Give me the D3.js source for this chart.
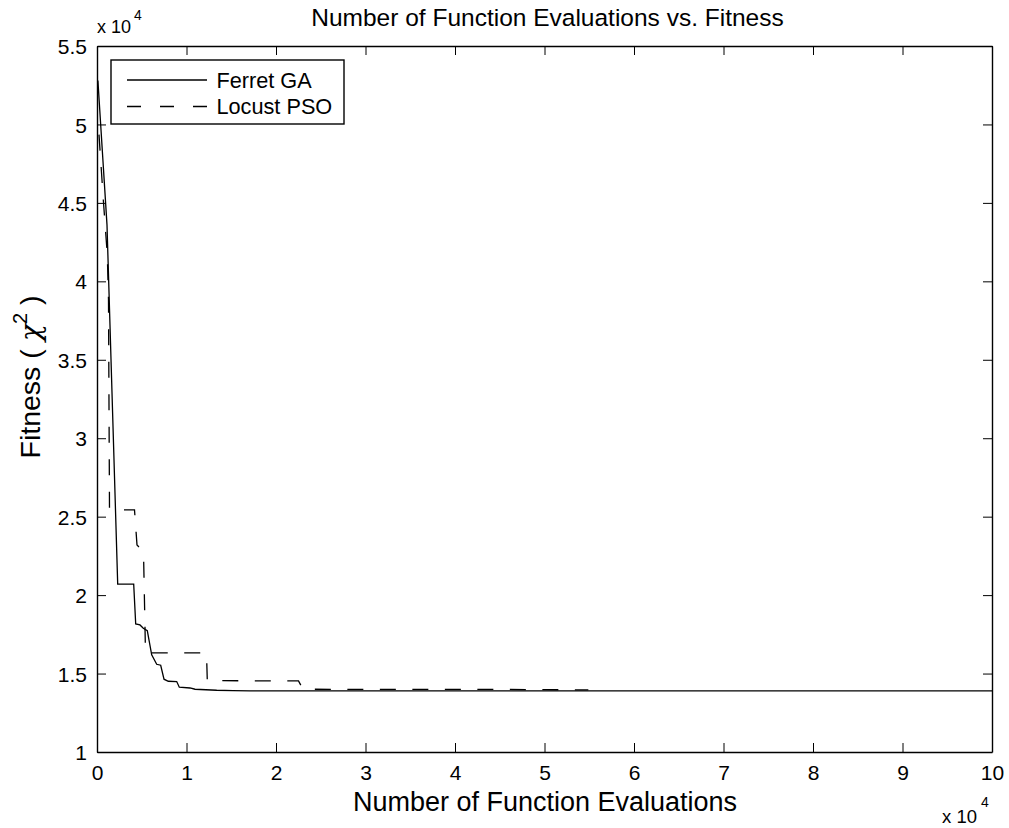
<!DOCTYPE html>
<html>
<head>
<meta charset="utf-8">
<script src="https://cdn.jsdelivr.net/npm/d3@7"></script>
<style>
  html, body { margin: 0; padding: 0; background: #fff; }
  svg { display: block; font-family: "Liberation Sans", Arial, Helvetica, sans-serif; }
</style>
</head>
<body>
<svg id="chart" width="1009" height="828"></svg>
<script>
// ---- data ----
const xTicks = [0, 10000, 20000, 30000, 40000, 50000, 60000, 70000, 80000, 90000, 100000];
const yTicks = [10000, 15000, 20000, 25000, 30000, 35000, 40000, 45000, 50000, 55000];

const gaEvals   = [100, 1117, 2313, 4100, 4324, 4800, 5173, 5620, 6110, 6670, 7117, 7486, 7966, 8905, 9196, 10391, 10950, 13374, 15196, 17095, 100000];
const gaFitness = [52800, 43600, 20700, 20700, 18160, 18100, 17890, 17740, 16190, 15590, 15530, 14640, 14510, 14490, 14130, 14080, 14000, 13935, 13910, 13890, 13890];

const psoEvals   = [223, 704, 1151, 1285, 1397, 4190, 4469, 5196, 5419, 12235, 12324, 22514, 23017, 45000, 54900];
const psoFitness = [49350, 45204, 41696, 38827, 25434, 25434, 23202, 22755, 16314, 16314, 14547, 14528, 13999, 13990, 13955];

const seriesNames = ["Ferret GA", "Locust PSO"];
const titleText = "Number of Function Evaluations vs. Fitness";
const xLabelText = "Number of Function Evaluations";

// ---- layout ----
const L = 97, R = 992, T = 46, B = 752;
const svg = d3.select("#chart");

const x = d3.scaleLinear().domain([0, 100000]).range([L, R]);
const y = d3.scaleLinear().domain([10000, 55000]).range([B, T]);

const fmt = d => String(d / 10000);
const tickLen = 9;
const tickFont = "21px";

// bottom axis
const gx = svg.append("g").attr("transform", `translate(0,${B})`)
  .call(d3.axisBottom(x).tickValues(xTicks).tickFormat(fmt).tickSizeInner(-tickLen).tickSizeOuter(0).tickPadding(16));
// top axis
const gxt = svg.append("g").attr("transform", `translate(0,${T})`)
  .call(d3.axisTop(x).tickValues(xTicks).tickFormat("").tickSizeInner(-tickLen).tickSizeOuter(0));
// left axis
const gy = svg.append("g").attr("transform", `translate(${L},0)`)
  .call(d3.axisLeft(y).tickValues(yTicks).tickFormat(fmt).tickSizeInner(-tickLen).tickSizeOuter(0).tickPadding(10));
// right axis
const gyr = svg.append("g").attr("transform", `translate(${R},0)`)
  .call(d3.axisRight(y).tickValues(yTicks).tickFormat("").tickSizeInner(-tickLen).tickSizeOuter(0));

[gx, gxt, gy, gyr].forEach(g => {
  g.select(".domain").attr("stroke", "#000").attr("stroke-width", 1.4);
  g.selectAll(".tick line").attr("stroke", "#000").attr("stroke-width", 1);
  g.selectAll(".tick text").attr("fill", "#000").style("font-size", tickFont)
    .style("font-family", '"Liberation Sans", Arial, sans-serif');
});
gx.selectAll(".tick text").attr("dy", "0.71em").attr("y", 13);
gy.selectAll(".tick text").attr("dy", "0.36em");

// ---- lines ----
const line = d3.line().x(d => x(d[0])).y(d => y(d[1]));
svg.append("path")
  .datum(gaEvals.map((e, i) => [e, gaFitness[i]]))
  .attr("d", line).attr("fill", "none").attr("stroke", "#000").attr("stroke-width", 1.3);
svg.append("path")
  .datum(psoEvals.map((e, i) => [e, psoFitness[i]]))
  .attr("d", line).attr("fill", "none").attr("stroke", "#000").attr("stroke-width", 1.3)
  .attr("stroke-dasharray", "16,16.5");

// ---- legend ----
const lg = svg.append("g");
lg.append("rect").attr("x", 111).attr("y", 60).attr("width", 233).attr("height", 64)
  .attr("fill", "#fff").attr("stroke", "#000").attr("stroke-width", 1.4);
const legY = [80, 106.5];
seriesNames.forEach((name, i) => {
  lg.append("line").attr("x1", 127).attr("x2", 207).attr("y1", legY[i]).attr("y2", legY[i])
    .attr("stroke", "#000").attr("stroke-width", 1.3)
    .attr("stroke-dasharray", i === 1 ? "14,19" : null);
  lg.append("text").attr("x", 216.5).attr("y", legY[i]).attr("dy", "0.36em")
    .style("font-size", "21.7px").attr("fill", "#000").text(name);
});

// ---- title & labels ----
svg.append("text").attr("x", (L + R) / 2 + 3).attr("y", 26).attr("text-anchor", "middle")
  .style("font-size", "24.5px").attr("fill", "#000").text(titleText);
svg.append("text").attr("x", 545).attr("y", 811).attr("text-anchor", "middle")
  .style("font-size", "27px").attr("fill", "#000").text(xLabelText);

const yl = svg.append("text").attr("transform", "translate(40,377) rotate(-90)")
  .attr("text-anchor", "middle").style("font-size", "28.5px").attr("fill", "#000");
yl.append("tspan").text("Fitness ( ");
yl.append("tspan").style("font-family", '"DejaVu Serif", serif').style("font-style", "italic").text("χ");
yl.append("tspan").attr("dy", -13).style("font-size", "20px").text("2");
yl.append("tspan").attr("dy", 13).text("  )");

// ---- exponent labels ----
const e1 = svg.append("text").attr("x", 97).attr("y", 33).style("font-size", "18px").attr("fill", "#000");
e1.append("tspan").text("x 10");
e1.append("tspan").attr("dx", 3).attr("dy", -13).style("font-size", "14px").text("4");
const e2 = svg.append("text").attr("x", 942).attr("y", 823).style("font-size", "18.5px").attr("fill", "#000");
e2.append("tspan").text("x 10");
e2.append("tspan").attr("dx", 4).attr("dy", -16).style("font-size", "14px").text("4");
</script>
</body>
</html>
